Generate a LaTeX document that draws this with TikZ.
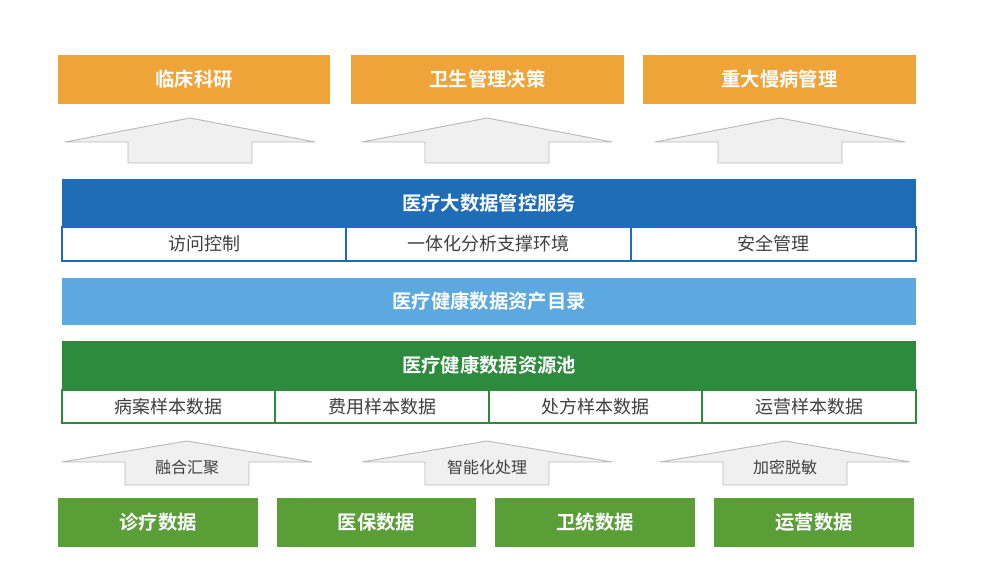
\documentclass[tikz,border=0pt]{standalone}
\usepackage{fontspec}
\setmainfont{Noto Sans CJK SC}
\newfontfamily\cjkb{Noto Sans CJK SC Bold}
\begin{document}
\begin{tikzpicture}[x=0.75pt,y=-0.75pt,
  orangebox/.style={text=white,font=\cjkb\fontsize{14.5}{17}\selectfont},
  bar/.style={text=white,font=\cjkb\fontsize{14.5}{17}\selectfont},
  cell/.style={text=black!75,font=\fontsize{13.5}{16}\selectfont},
  greenbox/.style={text=white,font=\cjkb\fontsize{14.5}{17}\selectfont},
  uparrow/.style={fill=gray!12,draw=gray!55,line width=0.7pt},
  albl/.style={text=black!75,font=\fontsize{12}{14}\selectfont}]
\definecolor{orange1}{HTML}{EFA43A}
\definecolor{blue1}{HTML}{1F6DB8}
\definecolor{blue2}{HTML}{5BA9DE}
\definecolor{green1}{HTML}{2E8A3C}
\definecolor{green2}{HTML}{5A9E38}
\fill[white] (0,0) rectangle (992,567);
\useasboundingbox (0,0) rectangle (992,567);
% top boxes
\foreach \a/\b/\t/\n in {58/330/临床科研/t1,351/624/卫生管理决策/t2,643/916/重大慢病管理/t3}{
  \fill[orange1] (\a,55) rectangle (\b,104);
  \node[orangebox] (\n) at ({(\a+\b)/2},79.5) {\t};
}
% top arrows
\foreach \c in {190,487,780}{
  \path[uparrow] (\c,118) -- (\c+125,142) -- (\c+62,142) -- (\c+62,163) -- (\c-62,163) -- (\c-62,142) -- (\c-125,142) -- cycle;
}
% blue bar
\fill[blue1] (62,179) rectangle (916,227);
\node[bar] (svc) at (489,203) {医疗大数据管控服务};
\draw[blue1,line width=1pt] (62,227) rectangle (916,261);
\draw[blue1,line width=1pt] (346,227) -- (346,261) (631,227) -- (631,261);
\node[cell] (c1) at (204,244) {访问控制};
\node[cell] (c2) at (488,244) {一体化分析支撑环境};
\node[cell] (c3) at (773,244) {安全管理};
% light blue
\fill[blue2] (62,278) rectangle (916,325);
\node[bar] (cat) at (489,301.5) {医疗健康数据资产目录};
% green bar
\fill[green1] (62,341) rectangle (916,390);
\node[bar] (pool) at (489,365.5) {医疗健康数据资源池};
\draw[green1,line width=1pt] (62,390) rectangle (916,423);
\draw[green1,line width=1pt] (275,390) -- (275,423) (489,390) -- (489,423) (702,390) -- (702,423);
\node[cell] (d1) at (168,406.5) {病案样本数据};
\node[cell] (d2) at (382,406.5) {费用样本数据};
\node[cell] (d3) at (595,406.5) {处方样本数据};
\node[cell] (d4) at (809,406.5) {运营样本数据};
% bottom arrows
\foreach \c/\t/\n in {187/融合汇聚/a1,487/智能化处理/a2,785/加密脱敏/a3}{
  \path[uparrow] (\c,441) -- (\c+125,462) -- (\c+62,462) -- (\c+62,485) -- (\c-62,485) -- (\c-62,462) -- (\c-125,462) -- cycle;
  \node[albl] (\n) at (\c,467) {\t};
}
% bottom boxes
\foreach \a/\b/\t/\n in {58/258/诊疗数据/b1,277/476/医保数据/b2,495/695/卫统数据/b3,714/914/运营数据/b4}{
  \fill[green2] (\a,498) rectangle (\b,547);
  \node[greenbox] (\n) at ({(\a+\b)/2},522.5) {\t};
}
\end{tikzpicture}
\end{document}
